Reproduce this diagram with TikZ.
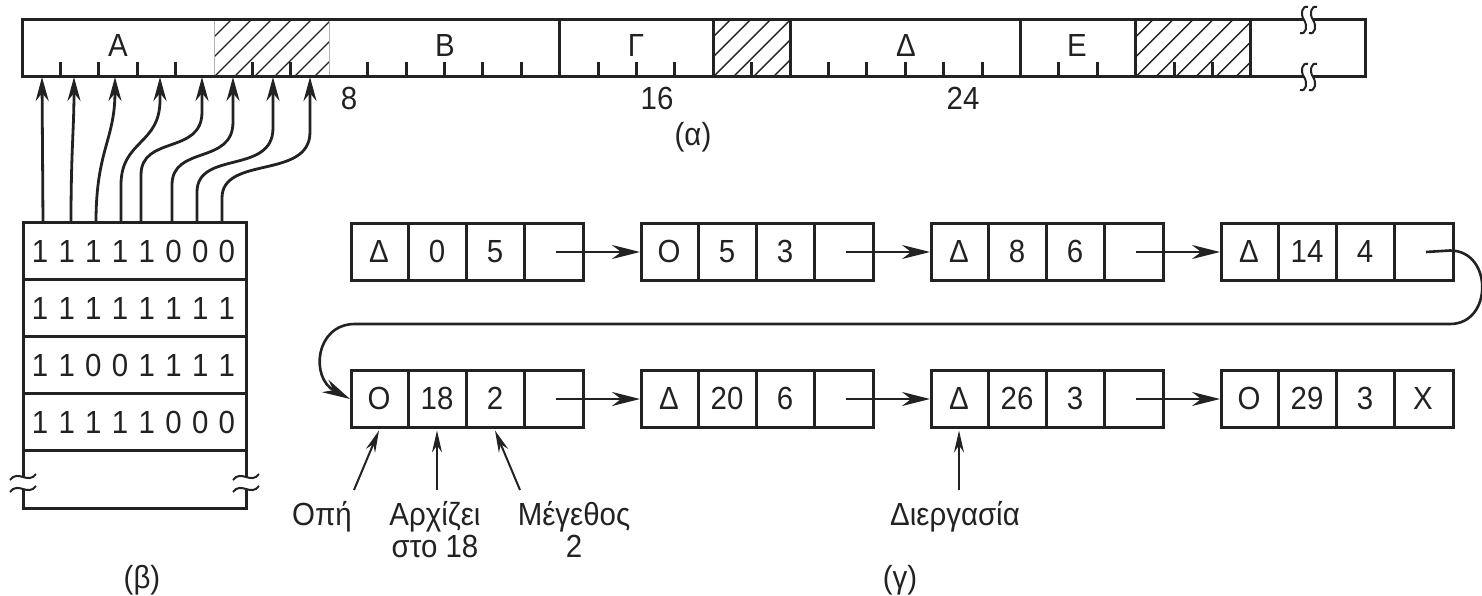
\documentclass[tikz,border=0pt]{standalone}
\usepackage{fontspec}
\setmainfont{Liberation Sans}[FakeStretch=0.92]
\usetikzlibrary{arrows.meta}
\definecolor{ink}{HTML}{222222}
\newcommand\segbox[7]{%
  \node[lbox] (#1) at (#2,#3) {};
  \foreach \k in {1,2,3} \draw[frame] (#2+58*\k,#3) -- (#2+58*\k,#3+57);
  \node[txt,anchor=base] (#1-a) at (#2+29,#3+40) {#4};
  \node[txt,anchor=base] (#1-b) at (#2+87,#3+40) {#5};
  \node[txt,anchor=base] (#1-c) at (#2+145,#3+40) {#6};
  \node[txt,anchor=base] (#1-d) at (#2+203,#3+40) {#7};
}
\begin{document}
\begin{tikzpicture}[x=1pt,y=-1pt,
  txt/.style={font=\fontsize{32}{35}\selectfont, inner sep=0pt, text=ink},
  frame/.style={draw=ink, line width=3pt},
  tick/.style={draw=ink, line width=3pt},
  hatch/.style={draw=ink, line width=1.4pt},
  faint/.style={draw=black!30, line width=1pt},
  wave/.style={draw=ink, line width=2pt},
  bitarrow/.style={draw=ink, line width=2.8pt, -{Stealth[length=24pt,width=13pt]}},
  listarrow/.style={draw=ink, line width=2.6pt, -{Stealth[length=28pt,width=14pt]}},
  notearrow/.style={draw=ink, line width=2pt, -{Stealth[length=22pt,width=10pt]}},
  lbox/.style={draw=ink, line width=3pt, minimum width=232pt, minimum height=57pt, inner sep=0pt, anchor=north west},
]
\useasboundingbox (0,0) rectangle (1482,596);

% ---------- (a) memory bar ----------
\foreach \a/\b in {5/8,18/20,29/32}{
  \begin{scope}
    \clip (22+38.4*\a,20) rectangle (22+38.4*\b,77);
    \foreach \k in {0,...,12}
      \draw[hatch] (22+38.4*\a-60+20*\k,77) -- ++(57,-57);
  \end{scope}
}
\draw[faint] (22+38.4*5,20) -- (22+38.4*5,77);
\draw[faint] (22+38.4*8,20) -- (22+38.4*8,77);
\draw[frame] (1304,20) -- (22,20) -- (22,77) -- (1304,77);
\draw[frame] (1313,20) -- (1365,20) -- (1365,77) -- (1313,77);
\foreach \cx in {1304,1313}{
  \foreach \cy in {20,77}{
    \draw[wave] (\cx+4,\cy-13) .. controls (\cx-2,\cy-15) and (\cx-4,\cy-6) .. (\cx,\cy)
                .. controls (\cx+4,\cy+6) and (\cx+2,\cy+15) .. (\cx-4,\cy+13);
  }
}
\foreach \i in {14,18,20,26,29,32}
  \draw[frame] (22+38.4*\i,20) -- (22+38.4*\i,77);
\foreach \i in {1,2,3,4,6,7,9,10,11,12,13,15,16,17,19,21,22,23,24,25,27,28,30,31}
  \draw[tick] (22+38.4*\i,77) -- (22+38.4*\i,62);

\node[txt,anchor=base] (segA) at (118,57) {Α};
\node[txt,anchor=base] (segB) at (445,57) {Β};
\node[txt,anchor=base] (segG) at (636,57) {Γ};
\node[txt,anchor=base] (segD) at (906,57) {Δ};
\node[txt,anchor=base] (segE) at (1077,57) {Ε};
\node[txt,anchor=base] (n8) at (349,110) {8};
\node[txt,anchor=base] (n16) at (657,110) {16};
\node[txt,anchor=base] (n24) at (963,110) {24};
\node[txt,anchor=base] (capa) at (693,146) {(α)};

% ---------- (b) bitmap ----------
\draw[frame] (23,477) -- (23,222) -- (246,222) -- (246,477);
\draw[frame] (23,489) -- (23,508) -- (246,508) -- (246,489);
\foreach \y in {279,336,393,450} \draw[frame] (23,\y) -- (246,\y);
\foreach \cx in {23,246}{
  \foreach \cy in {477,489}{
    \draw[wave] (\cx-13,\cy+3) .. controls (\cx-5,\cy-8) and (\cx+5,\cy+8) .. (\cx+13,\cy-3);
  }
}
\foreach \r/\bits/\yb in {1/{1,1,1,1,1,0,0,0}/262, 2/{1,1,1,1,1,1,1,1}/319,
                          3/{1,1,0,0,1,1,1,1}/376, 4/{1,1,1,1,1,0,0,0}/433}{
  \foreach \d [count=\i from 0] in \bits
    \node[txt,anchor=base] (bit\r-\i) at (40+26.7*\i,\yb) {\d};
}
\foreach \n/\sx/\ex in {1/43/42,2/71/74,3/96/115,4/121/160,5/141/202,6/172/233,7/197/273,8/222/310}{
  \coordinate (s\n) at (\sx,222);
  \coordinate (e\n) at (\ex,77);
}
\draw[bitarrow] (s1) -- (e1);
\draw[bitarrow] (s2) .. controls (71,150) and (74,130) .. (e2);
\draw[bitarrow] (s3) .. controls (96,150) and (115,140) .. (e3);
\draw[bitarrow] (s4) -- (121,185) .. controls (121,140) and (160,145) .. (160,100) -- (e4);
\draw[bitarrow] (s5) -- (141,175) .. controls (141,135) and (202,155) .. (202,112) -- (e5);
\draw[bitarrow] (s6) -- (172,185) .. controls (172,145) and (233,165) .. (233,122) -- (e6);
\draw[bitarrow] (s7) -- (197,192) .. controls (197,150) and (273,175) .. (273,128) -- (e7);
\draw[bitarrow] (s8) -- (222,198) .. controls (222,155) and (310,180) .. (310,132) -- (e8);
\node[txt,anchor=base] (capb) at (142,588) {(β)};

% ---------- (c) list ----------
\segbox{b1}{350}{222}{Δ}{0}{5}{}
\segbox{b2}{640}{222}{Ο}{5}{3}{}
\segbox{b3}{930}{222}{Δ}{8}{6}{}
\segbox{b4}{1220}{222}{Δ}{14}{4}{}
\segbox{b5}{350}{369}{Ο}{18}{2}{}
\segbox{b6}{640}{369}{Δ}{20}{6}{}
\segbox{b7}{930}{369}{Δ}{26}{3}{}
\segbox{b8}{1220}{369}{Ο}{29}{3}{X}

\draw[listarrow] ([xshift=-29pt]b1.east) -- (b2.west);
\draw[listarrow] ([xshift=-29pt]b2.east) -- (b3.west);
\draw[listarrow] ([xshift=-29pt]b3.east) -- (b4.west);
\draw[listarrow] ([xshift=-29pt]b5.east) -- (b6.west);
\draw[listarrow] ([xshift=-29pt]b6.east) -- (b7.west);
\draw[listarrow] ([xshift=-29pt]b7.east) -- (b8.west);
\coordinate (lp1) at (1450,250.5);
\coordinate (lp2) at (1450,324);
\coordinate (lp3) at (355,324);
\draw[listarrow] ([xshift=-29pt]b4.east) -- (lp1) .. controls (1493,250.5) and (1493,324) .. (lp2)
  -- (lp3) .. controls (315,324) and (310,378) .. (b5.west);

\node[txt,anchor=base] (hole) at (322,525) {Οπή};
\node[txt,anchor=base] (start1) at (435,525) {Αρχίζει};
\node[txt,anchor=base] (start2) at (435,557) {στο 18};
\node[txt,anchor=base] (size1) at (574,525) {Μέγεθος};
\node[txt,anchor=base] (size2) at (574,557) {2};
\node[txt,anchor=base] (proc) at (955,525) {Διεργασία};
\coordinate (t1) at (354,490);
\coordinate (t2) at (437,490);
\coordinate (t3) at (520,490);
\coordinate (t4) at (959,490);
\draw[notearrow] (t1) -- ([xshift=29pt,yshift=-1.5pt]b5.south west);
\draw[notearrow] (t2) -- ([xshift=87pt,yshift=-1.5pt]b5.south west);
\draw[notearrow] (t3) -- ([xshift=145pt,yshift=-1.5pt]b5.south west);
\draw[notearrow] (t4) -- ([xshift=29pt,yshift=-1.5pt]b7.south west);
\node[txt,anchor=base] (capc) at (900,588) {(γ)};
\end{tikzpicture}
\end{document}
